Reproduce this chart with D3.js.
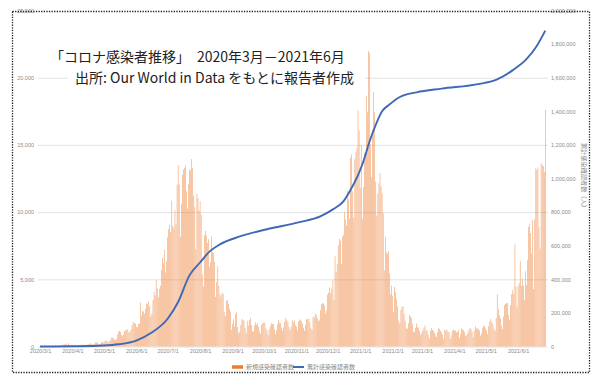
<!DOCTYPE html>
<html>
<head>
<meta charset="utf-8">
<script src="https://cdn.jsdelivr.net/npm/d3@7"></script>
<style>
  body { margin: 0; background: #fff; }
  svg { display: block; }
  text { font-family: "Noto Sans CJK JP", "Noto Sans", sans-serif; }
</style>
</head>
<body>
<svg id="chart" width="593" height="383"></svg>
<script>
// Daily new confirmed cases, one value per day starting 2020-03-01 (one line per month)
const startDate = "2020-03-01";
const newCases = [
  0,0,0,0,1,0,0,1,4,0,6,4,11,14,13,24,23,34,52,30,38,34,128,152,218,155,102,243,17,46,27,
  82,80,123,48,80,69,63,96,58,124,147,87,122,99,144,182,178,251,143,192,143,168,318,267,318,169,195,205,332,354,
  294,385,437,447,295,424,463,663,665,595,502,511,529,865,1113,1160,1094,853,767,874,1134,1215,1240,1288,1032,1101,1274,1609,1837,1727,1716,
  1456,1455,1674,1713,3267,2312,2642,2594,2430,2810,3215,3147,3359,2989,2228,2453,3454,4078,3806,4966,4302,3644,4288,4518,5688,6579,6215,7210,5515,6334,
  8124,8728,9063,8508,10853,8971,8810,10134,9063,12058,13497,12058,8170,10627,12757,13172,13285,13449,11554,10259,12094,13150,13104,13944,13285,11233,10373,7232,11362,11046,10107,
  10810,9804,5377,4456,8307,8590,8233,7712,7997,5938,6275,8195,7035,6940,6275,3692,4804,5980,4530,3880,3707,4008,3916,2541,2258,3398,3466,3176,2810,2585,1240,
  1673,2017,1504,2420,2563,1440,991,1079,1598,2043,1990,1923,1401,1020,1923,1555,1983,2128,1587,1145,1108,1570,1789,1617,1720,1478,1113,950,1640,1737,
  1796,1767,1351,1191,862,1302,1553,1722,1659,1678,1278,935,1222,1628,1959,1770,1741,1387,1161,1426,1854,2118,1980,1824,1460,1235,1469,1971,1812,1929,1595,
  1453,1205,1838,1964,2015,1878,1705,1385,1163,1617,2053,2029,2089,1817,1384,1232,2212,2165,2437,2356,2086,1881,1962,2708,3159,3220,3194,3057,2453,2696,
  3857,4011,4402,3963,4300,4932,3449,6709,5549,6130,7552,7999,7882,6128,8166,8319,10008,9445,9013,11552,10939,9502,14046,14305,11552,9580,13939,14458,14796,17552,16078,
  11793,15002,9501,11859,14410,14305,18657,17421,21980,21832,15052,12601,16148,18944,17421,12267,9729,11381,12159,12912,11901,11384,9915,5658,8170,7012,6912,7100,5457,3880,4525,
  3752,2548,4427,4051,3542,2990,1938,1742,2703,2944,3006,2422,1902,1364,1327,1736,2320,2228,2125,1685,1113,1069,1381,1705,1440,1391,1170,851,
  1007,1192,1409,1554,1211,1179,868,606,1157,1370,1242,1194,1026,821,697,1056,1407,1302,1157,1039,869,577,1231,1185,1259,1081,1078,559,815,1187,1264,
  1145,1208,1059,1096,1240,626,928,1342,1268,1205,1089,764,869,995,1216,1398,1309,1093,699,1185,1516,1335,1340,1286,1187,811,975,1373,1552,1500,
  1334,1176,924,1518,1849,2058,1819,1652,1317,1159,2128,3898,2759,2325,2073,1552,1293,2240,3075,3167,3220,3245,2345,1960,3082,3901,4218,3891,7592,4452,2916,
  4515,4750,6339,4505,5059,4522,3464,5600,4574,6430,8881,9149,8436,6923,9391,4282,9460,13246,13155,13320,8883,7288,13659,13493,13422,12993,17602
];

// Cumulative confirmed cases (right axis)
const cumDates = [
  "2020-03-01","2020-04-01","2020-05-01","2020-05-15","2020-06-01","2020-06-15","2020-07-01","2020-07-11",
  "2020-07-22","2020-08-01","2020-08-10","2020-08-20","2020-09-08","2020-10-04","2020-11-04","2020-11-24",
  "2020-12-06","2020-12-16","2020-12-22","2020-12-30","2021-01-04","2021-01-10","2021-01-16","2021-01-22",
  "2021-01-29","2021-02-08","2021-02-24","2021-03-20","2021-04-25","2021-05-12","2021-05-27","2021-06-09",
  "2021-06-19","2021-06-27"
];
const cumValues = [
  0,1400,6000,13000,35000,80000,165000,265000,
  425000,500000,565000,608000,655000,698000,740000,775000,
  816000,864000,923000,1020000,1100000,1220000,1320000,1400000,
  1440000,1485000,1513000,1535000,1563000,1590000,1645000,1710000,
  1790000,1880000
];

const leftTicks = [0, 5000, 10000, 15000, 20000, 25000];
const rightTicks = [0, 200000, 400000, 600000, 800000, 1000000, 1200000, 1400000, 1600000, 1800000, 2000000];
const monthTicks = ["2020-03-01","2020-04-01","2020-05-01","2020-06-01","2020-07-01","2020-08-01","2020-09-01",
  "2020-10-01","2020-11-01","2020-12-01","2021-01-01","2021-02-01","2021-03-01","2021-04-01","2021-05-01","2021-06-01"];

const titleLines = ["「コロナ感染者推移」　2020年3月－2021年6月", "出所: Our World in Data をもとに報告者作成"];
const legendLabels = ["新規感染確認者数", "累計感染確認者数"];
const rightAxisTitle = "累計感染確認者数（人）";

const barColor = "#ED7D31";
const lineColor = "#4068B8";
const gridColor = "#dadada";
const tickColor = "#8a8a8a";

const svg = d3.select("#chart");
const plot = { left: 38, right: 548, top: 10.5, bottom: 346.5 };

const parse = d3.utcParse("%Y-%m-%d");
const day0 = parse(startDate);
const dates = newCases.map((_, i) => d3.utcDay.offset(day0, i));

const x = d3.scaleUtc()
  .domain([d3.utcHour.offset(day0, -12), d3.utcHour.offset(parse("2021-06-29"), 12)])
  .range([39.5, 547.9]);
const yL = d3.scaleLinear().domain([0, 25000]).range([plot.bottom, plot.top]);
const yR = d3.scaleLinear().domain([0, 2000000]).range([plot.bottom, plot.top]);

// horizontal gridlines from the left axis
const grid = svg.append("g")
  .attr("transform", `translate(${plot.left},0)`)
  .call(d3.axisLeft(yL).tickValues(leftTicks.filter(d => d < 25000)).tickSize(-(plot.right - plot.left)).tickFormat(""));
grid.select(".domain").remove();
grid.selectAll("line").attr("stroke", gridColor).attr("stroke-width", 0.8);

// daily bars
const bw = 0.44;
svg.append("g").selectAll("rect")
  .data(newCases)
  .join("rect")
  .attr("x", (d, i) => x(dates[i]) - bw / 2)
  .attr("width", bw)
  .attr("y", d => yL(d))
  .attr("height", d => yL(0) - yL(d))
  .attr("fill", barColor);

// cumulative line
const cumData = cumDates.map((d, i) => ({ date: parse(d), v: cumValues[i] }));
svg.append("path")
  .datum(cumData)
  .attr("fill", "none")
  .attr("stroke", lineColor)
  .attr("stroke-width", 1.9)
  .attr("stroke-linejoin", "round")
  .attr("d", d3.line().x(d => x(d.date)).y(d => yR(d.v)).curve(d3.curveMonotoneX));

// left axis labels
const axL = svg.append("g")
  .attr("transform", "translate(34,0)")
  .call(d3.axisLeft(yL).tickValues(leftTicks).tickSize(0).tickPadding(0).tickFormat(d3.format(",")));
axL.select(".domain").remove();
axL.selectAll("text").attr("fill", tickColor).style("font-size", "5.5px")
  .style("font-family", "'Liberation Sans', sans-serif");

// right axis labels
const axR = svg.append("g")
  .attr("transform", "translate(551,0)")
  .call(d3.axisRight(yR).tickValues(rightTicks).tickSize(0).tickPadding(0).tickFormat(d3.format(",")));
axR.select(".domain").remove();
axR.selectAll("text").attr("fill", tickColor).style("font-size", "5.5px")
  .style("font-family", "'Liberation Sans', sans-serif");

// month labels
const fmt = d3.utcFormat("%Y/%-m/%-d");
const axX = svg.append("g")
  .attr("transform", `translate(0,${plot.bottom + 3})`)
  .call(d3.axisBottom(x).tickValues(monthTicks.map(parse)).tickSize(0).tickPadding(0).tickFormat(fmt));
axX.select(".domain").remove();
axX.selectAll("text").attr("fill", tickColor).style("font-size", "5.5px")
  .style("font-family", "'Liberation Sans', sans-serif");

// right axis title
svg.append("text")
  .attr("transform", "translate(582,177) rotate(90)")
  .attr("text-anchor", "middle")
  .attr("fill", tickColor)
  .style("font-size", "6.2px")
  .text(rightAxisTitle);

// legend
const legend = svg.append("g").attr("transform", "translate(232,367)");
[[0, barColor, legendLabels[0]], [61, lineColor, legendLabels[1]]].forEach(([dx, c, t]) => {
  legend.append("line").attr("x1", dx).attr("x2", dx + 11).attr("y1", 0).attr("y2", 0)
    .attr("stroke", c).attr("stroke-width", c === barColor ? 3.5 : 2);
  legend.append("text").attr("x", dx + 14).attr("y", 2.1).attr("fill", tickColor)
    .style("font-size", "6px").text(t);
});

// title box over the plot
const tg = svg.append("g");
tg.append("rect").attr("x", 68).attr("y", 42).attr("width", 297).attr("height", 48).attr("fill", "#fff");
tg.append("text").attr("x", 50).attr("y", 62).attr("fill", "#222").style("font-size", "14px").text(titleLines[0]);
tg.append("text").attr("x", 75).attr("y", 83).attr("fill", "#222").style("font-size", "14px").text(titleLines[1]);

// dotted frame
svg.append("rect").attr("x", 12.5).attr("y", 11.5).attr("width", 577).attr("height", 361)
  .attr("fill", "none").attr("stroke", "#222").attr("stroke-width", 1.3).attr("stroke-dasharray", "1.3,1.3");
</script>
</body>
</html>
